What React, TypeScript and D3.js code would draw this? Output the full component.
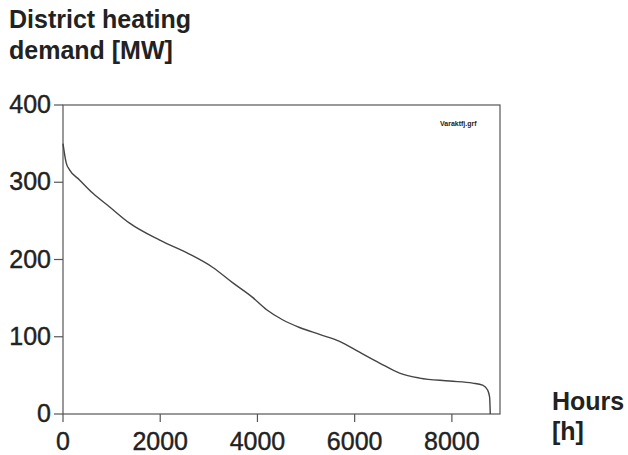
import React from "react";
import * as d3 from "d3";

// load duration curve
const hours = [0, 66, 135, 340, 610, 960, 1370, 1990, 2600, 3076, 3488, 3900, 4190, 4516, 4866, 5278, 5690, 6100, 6512, 6924, 7335, 7953, 8426, 8632, 8735, 8776, 8790];
const demand = [350, 325, 316, 303, 286, 268, 247, 225, 207, 190, 170, 151, 135, 122, 112, 103, 94, 80, 66, 53, 46.5, 42.7, 40, 37.5, 31, 22, 0];

const yTicks = [0, 100, 200, 300, 400];
const xTicks = [0, 2000, 4000, 6000, 8000];

const W = 628;
const H = 455;

export default function App() {
  const x = d3.scaleLinear().domain([0, 8990]).range([63, 500]);
  const y = d3.scaleLinear().domain([0, 400]).range([414, 105]);

  const pts = hours.map((h, i) => [h, demand[i]] as [number, number]);
  const line = d3
    .line<[number, number]>()
    .x((d) => x(d[0]))
    .y((d) => y(d[1]))
    .curve(d3.curveMonotoneX);

  const txt = "#222";
  const axis = "#555";
  const font = "'Liberation Sans', Arial, Helvetica, sans-serif";

  return (
    <svg width={W} height={H} style={{ position: "absolute", left: 0, top: 0, background: "#fff" }} fontFamily={font}>
      {/* title */}
      <text x={9} y={28} fontSize={25} fontWeight="bold" fill={txt}>District heating</text>
      <text x={9} y={59} fontSize={25} fontWeight="bold" fill={txt}>demand [MW]</text>

      {/* frame */}
      <rect x={x(0)} y={y(400)} width={x.range()[1] - x(0)} height={y(0) - y(400)} fill="none" stroke={axis} strokeWidth={1.2} />

      {/* y axis */}
      {yTicks.map((t) => (
        <g key={"y" + t}>
          <line x1={x(0) - 9} x2={x(0)} y1={y(t)} y2={y(t)} stroke={axis} strokeWidth={1.2} />
          <text x={51} y={y(t) + 8} fontSize={25} textAnchor="end" fill={txt} stroke={txt} strokeWidth={0.4}>{t}</text>
        </g>
      ))}

      {/* x axis */}
      {xTicks.map((t) => (
        <g key={"x" + t}>
          <line x1={x(t)} x2={x(t)} y1={y(0)} y2={y(0) + 8} stroke={axis} strokeWidth={1.2} />
          <text x={x(t)} y={450} fontSize={25} textAnchor="middle" fill={txt} stroke={txt} strokeWidth={0.4}>{t}</text>
        </g>
      ))}

      <text x={552} y={410} fontSize={25} fontWeight="bold" fill={txt}>Hours</text>
      <text x={552} y={440} fontSize={25} fontWeight="bold" fill={txt}>[h]</text>

      <text x={440} y={126} fontSize={7} fontWeight="bold" fill={txt}>Varaktfj.grf</text>

      <path d={line(pts) ?? ""} fill="none" stroke="#444" strokeWidth={1.4} />
    </svg>
  );
}
